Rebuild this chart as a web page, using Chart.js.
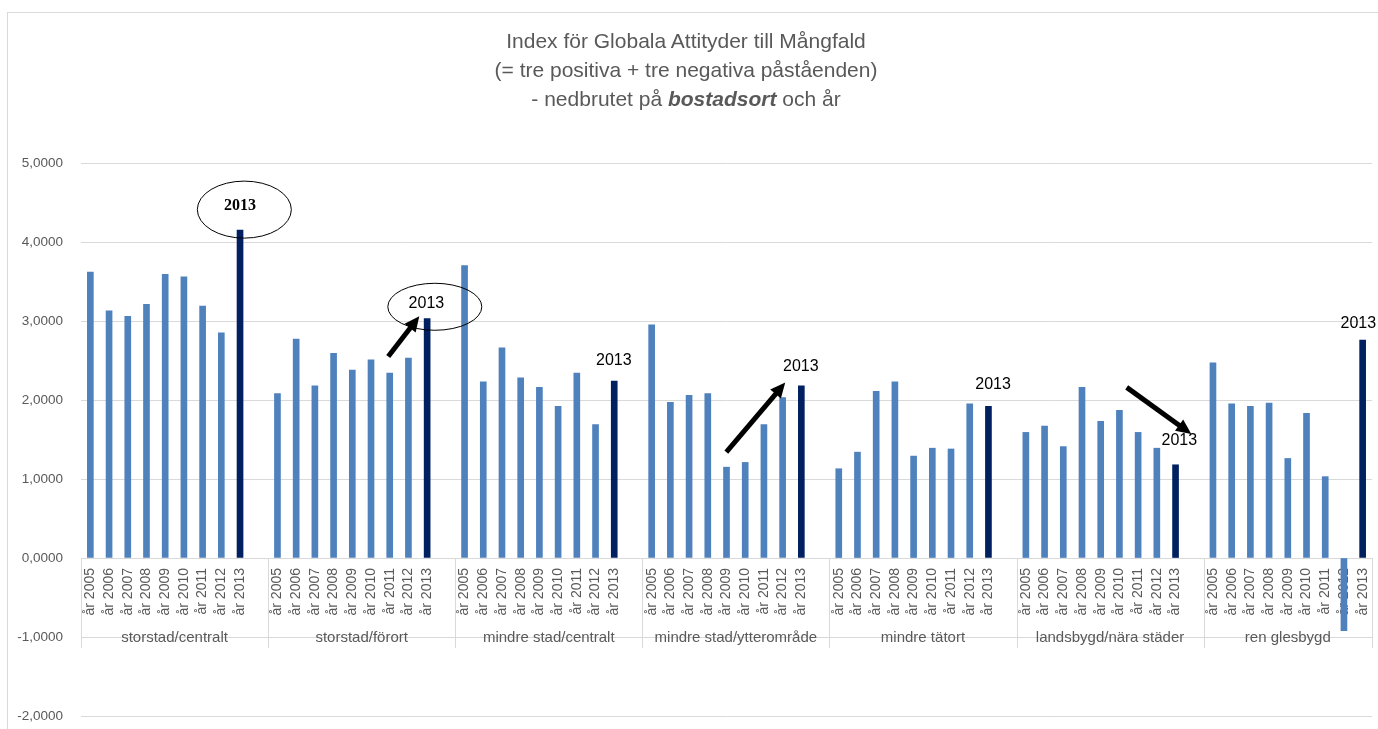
<!DOCTYPE html>
<html>
<head>
<meta charset="utf-8">
<script src="https://cdn.jsdelivr.net/npm/chart.js@4/dist/chart.umd.min.js"></script>
<style>
html, body { margin: 0; padding: 0; background: #fff; overflow: hidden; }
#wrap { position: relative; width: 1378px; height: 729px; }
#frame { position: absolute; left: 7px; top: 12px; width: 1400px; height: 740px; border-left: 1px solid #d9d9d9; border-top: 1px solid #d9d9d9; }
#title { position: absolute; left: 0; top: 26px; width: 1372px; text-align: center; font-family: 'Liberation Sans', Arial, sans-serif; font-size: 21px; line-height: 29px; color: #595959; }
canvas { position: absolute; left: 0; top: 0; }
</style>
</head>
<body>
<div id="wrap">
    <div id="frame"></div>
    <canvas id="indexChart" width="1378" height="729"></canvas>
    <div id="title">
        Index för Globala Attityder till Mångfald<br>
        (= tre positiva + tre negativa påståenden)<br>
        - nedbrutet på <b><i>bostadsort</i></b> och år
    </div>
</div>
<script>
// Bostadsort och år
const groups = ['storstad/centralt', 'storstad/förort', 'mindre stad/centralt', 'mindre stad/ytterområde', 'mindre tätort', 'landsbygd/nära städer', 'ren glesbygd'];
const years = ['år 2005', 'år 2006', 'år 2007', 'år 2008', 'år 2009', 'år 2010', 'år 2011', 'år 2012', 'år 2013'];

// Indexvärden 2005-2013 per bostadsort
const storstadCentralt = [3.62, 3.13, 3.06, 3.21, 3.59, 3.56, 3.19, 2.85, 4.15];
const storstadForort = [2.08, 2.77, 2.18, 2.59, 2.38, 2.51, 2.34, 2.53, 3.03];
const mindreStadCentralt = [3.70, 2.23, 2.66, 2.28, 2.16, 1.92, 2.34, 1.69, 2.24];
const mindreStadYtteromrade = [2.95, 1.97, 2.06, 2.08, 1.15, 1.21, 1.69, 2.03, 2.18];
const mindreTatort = [1.13, 1.34, 2.11, 2.23, 1.29, 1.39, 1.38, 1.95, 1.92];
const landsbygdNaraStader = [1.59, 1.67, 1.41, 2.16, 1.73, 1.87, 1.59, 1.39, 1.18];
const renGlesbygd = [2.47, 1.95, 1.92, 1.96, 1.26, 1.83, 1.03, -0.92, 2.76];

// Y-axel
const yMin = -2;
const yMax = 5;
const yStep = 1;

const series = [storstadCentralt, storstadForort, mindreStadCentralt, mindreStadYtteromrade, mindreTatort, landsbygdNaraStader, renGlesbygd];

// Bygg kategorier: nio år per grupp, en tom plats mellan grupperna
const labels = [];
const values = [];
const groupStarts = [];
series.forEach((vals, g) => {
    groupStarts.push(labels.length);
    years.forEach((yr, i) => {
        labels.push(yr);
        values.push(vals[i]);
    });
    if (g < series.length - 1) {
        labels.push('');
        values.push(null);
    }
});

const FONT = "'Liberation Sans', Arial, sans-serif";
Chart.defaults.font.family = FONT;
Chart.defaults.color = '#595959';

// Pratbubblor, pilar och "2013"-texter (i skalans koordinater)
const ellipses = [
    { x: 8.23, v: 4.41, rx: 47, ry: 28.5 },
    { x: 18.41, v: 3.18, rx: 47, ry: 23.5 }
];
const arrows = [
    { from: [15.92, 2.55], to: [17.58, 3.06] },
    { from: [33.99, 1.34], to: [37.14, 2.22] },
    { from: [55.39, 2.16], to: [58.84, 1.57] }
];
const notes = [
    { x: 8.0, v: 4.46, serif: true },
    { x: 17.96, v: 3.22 },
    { x: 27.98, v: 2.50 },
    { x: 37.97, v: 2.42 },
    { x: 48.25, v: 2.19 },
    { x: 58.2, v: 1.49 },
    { x: 67.77, v: 2.97 }
];

// Gruppetiketter under årsetiketterna
const groupAxis = {
    id: 'groupAxis',
    beforeDatasetsDraw(chart) {
        const { ctx, scales: { x, y } } = chart;
        const step = x.getPixelForValue(1) - x.getPixelForValue(0);
        const y0 = y.getPixelForValue(0);
        const bounds = groupStarts.map(s => x.getPixelForValue(s) - step / 2);
        bounds.push(x.right);
        ctx.save();
        ctx.strokeStyle = '#d9d9d9';
        ctx.lineWidth = 1;
        bounds.forEach(b => {
            const px = Math.round(b) + 0.5;
            ctx.beginPath();
            ctx.moveTo(px, y0);
            ctx.lineTo(px, y0 + 90);
            ctx.stroke();
        });
        ctx.fillStyle = '#595959';
        ctx.font = '15px ' + FONT;
        ctx.textAlign = 'center';
        ctx.textBaseline = 'middle';
        groups.forEach((name, g) => {
            ctx.fillText(name, (bounds[g] + bounds[g + 1]) / 2, y0 + 80);
        });
        ctx.restore();
    }
};

const callouts = {
    id: 'callouts',
    afterDatasetsDraw(chart) {
        const { ctx, scales: { x, y } } = chart;
        ctx.save();
        ctx.strokeStyle = '#000';
        ctx.lineWidth = 1;
        ellipses.forEach(e => {
            ctx.beginPath();
            ctx.ellipse(x.getPixelForValue(e.x), y.getPixelForValue(e.v), e.rx, e.ry, 0, 0, Math.PI * 2);
            ctx.stroke();
        });
        ctx.fillStyle = '#000';
        arrows.forEach(a => {
            const x1 = x.getPixelForValue(a.from[0]), y1 = y.getPixelForValue(a.from[1]);
            const x2 = x.getPixelForValue(a.to[0]), y2 = y.getPixelForValue(a.to[1]);
            const ang = Math.atan2(y2 - y1, x2 - x1);
            const head = 15;
            ctx.lineWidth = 5;
            ctx.beginPath();
            ctx.moveTo(x1, y1);
            ctx.lineTo(x2 - head * 0.8 * Math.cos(ang), y2 - head * 0.8 * Math.sin(ang));
            ctx.stroke();
            ctx.beginPath();
            ctx.moveTo(x2, y2);
            ctx.lineTo(x2 - head * Math.cos(ang) + 7 * Math.sin(ang), y2 - head * Math.sin(ang) - 7 * Math.cos(ang));
            ctx.lineTo(x2 - head * Math.cos(ang) - 7 * Math.sin(ang), y2 - head * Math.sin(ang) + 7 * Math.cos(ang));
            ctx.closePath();
            ctx.fill();
        });
        ctx.textAlign = 'center';
        ctx.textBaseline = 'middle';
        notes.forEach(n => {
            ctx.font = n.serif ? 'bold 16px "Liberation Serif", serif' : '16px ' + FONT;
            ctx.fillText('2013', x.getPixelForValue(n.x), y.getPixelForValue(n.v));
        });
        ctx.restore();
    }
};

const ctx = document.getElementById('indexChart').getContext('2d');
const indexChart = new Chart(ctx, {
    type: 'bar',
    data: {
        labels: labels,
        datasets: [{
            data: values,
            backgroundColor: c => labels[c.dataIndex] === 'år 2013' ? '#002060' : '#4f81bd',
            barThickness: 6
        }]
    },
    options: {
        responsive: false,
        animation: false,
        devicePixelRatio: 1,
        layout: { padding: { top: 163, bottom: 13, left: 0, right: 6 } },
        plugins: {
            legend: { display: false },
            tooltip: { enabled: false }
        },
        scales: {
            x: {
                position: { y: 0 },
                offset: true,
                grid: { display: false, drawTicks: false },
                border: { display: false },
                ticks: {
                    autoSkip: false,
                    minRotation: 90,
                    maxRotation: 90,
                    padding: 10,
                    color: '#595959',
                    font: { size: 14 }
                },
                afterFit: s => { s.paddingLeft = 0; s.paddingRight = 0; s.paddingTop = 0; s.paddingBottom = 0; }
            },
            y: {
                min: yMin,
                max: yMax,
                ticks: {
                    stepSize: yStep,
                    padding: 18,
                    color: '#595959',
                    font: { size: 13.5 },
                    callback: v => v.toFixed(4).replace('.', ',')
                },
                grid: { color: '#d9d9d9', drawTicks: false },
                border: { display: false },
                afterFit: s => { s.width = 81; s.paddingTop = 0; s.paddingBottom = 0; }
            }
        }
    },
    plugins: [groupAxis, callouts]
});
</script>
</body>
</html>
